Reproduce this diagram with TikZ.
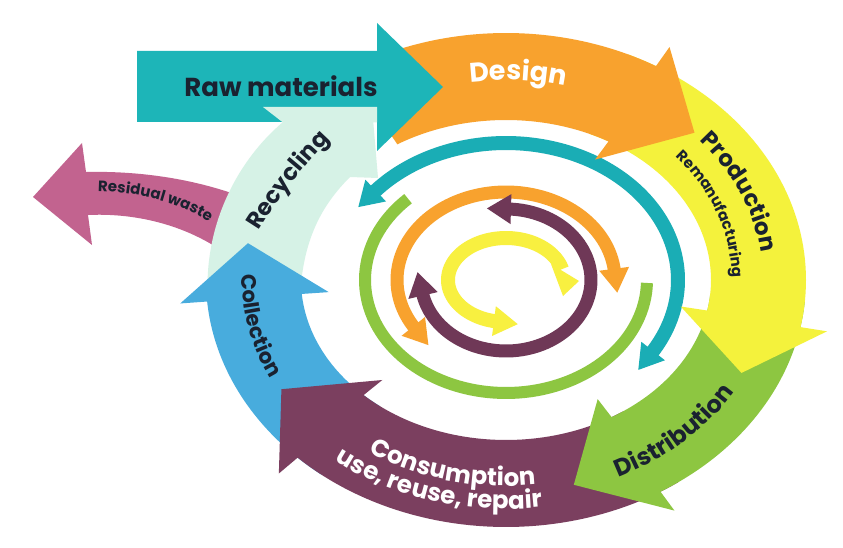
\documentclass[tikz,border=0pt]{standalone}
\usepackage{fontspec}
\setmainfont{Poppins}
\usetikzlibrary{arrows.meta,decorations.text}
\definecolor{cteal}{HTML}{1DB5B8}
\definecolor{ctealring}{HTML}{1AADB5}
\definecolor{corange}{HTML}{F8A22E}
\definecolor{cyellow}{HTML}{F4F23C}
\definecolor{cyelring}{HTML}{F8F040}
\definecolor{cgreen}{HTML}{8DC641}
\definecolor{cplum}{HTML}{7B3F5F}
\definecolor{cplumring}{HTML}{6F3857}
\definecolor{cblue}{HTML}{48ACDD}
\definecolor{cmint}{HTML}{D6F2E6}
\definecolor{cpink}{HTML}{C2638F}
\definecolor{cink}{HTML}{1A2230}
\def\CX{506}
\def\CY{280}
% band arrow along the big ring: #1 tail angle, #2 barb angle, #3 tip angle, #4 colour
\newcommand\bandarrow[4]{%
  \fill[#4] plot[domain=#1:#2,samples=50] ({\CX+300*cos(\x)},{\CY+247*sin(\x)})
    -- ({\CX+327*cos(#2)},{\CY+269*sin(#2)})
    -- ({\CX+262*cos(#3)},{\CY+212*sin(#3)})
    -- ({\CX+178*cos(#2)},{\CY+139*sin(#2)})
    -- plot[domain=#2:#1,samples=50] ({\CX+205*cos(\x)},{\CY+160*sin(\x)}) -- cycle;}
% head of an inner ring: rx, ry, angle, direction (+1/-1), colour
\newcommand\ringhead[5]{%
  \pgfmathsetmacro\rhx{\CX+#1*cos(#3)}%
  \pgfmathsetmacro\rhy{\CY+#2*sin(#3)}%
  \pgfmathsetmacro\rtx{(#4)*(-1)*#1*sin(#3)}%
  \pgfmathsetmacro\rty{(#4)*#2*cos(#3)}%
  \pgfmathsetmacro\rtn{veclen(\rtx,\rty)}%
  \pgfmathsetmacro\rux{\rtx/\rtn}%
  \pgfmathsetmacro\ruy{\rty/\rtn}%
  \fill[#5] ({\rhx-2*\rux+15*\ruy},{\rhy-2*\ruy-15*\rux})
    -- ({\rhx+22*\rux},{\rhy+22*\ruy})
    -- ({\rhx-2*\rux-15*\ruy},{\rhy-2*\ruy+15*\rux}) -- cycle;}
% text along an ellipse arc: colour, font, text, rx, ry, from, to
\newcommand\arctext[7]{%
  \path[decorate,decoration={text along path,text align=center,text color=#1,
    text={|#2|#3}}] plot[domain=#6:#7,samples=80] ({\CX+#4*cos(\x)},{\CY+#5*sin(\x)});}
\tikzset{ring/.style={line width=#1}}
\begin{document}
\begin{tikzpicture}[x=1pt,y=-1pt]
\useasboundingbox (0,0) rectangle (843,548);
\fill[white] (0,0) rectangle (843,548);
% residual waste
\fill[cpink] (240,196) .. controls (185,176) and (130,171) .. (86,172) -- (82,143) -- (33,197)
  -- (92,245) -- (88,215) .. controls (130,213) and (185,222) .. (232,258) -- cycle;
% recycling band
\fill[cmint] (208,300) .. controls (203,225) and (238,160) .. (283,122) -- (263,107) -- (372,107)
  -- (378,178) -- (350,177) .. controls (322,205) and (302,240) .. (300,300) -- cycle;
% ring bands
\bandarrow{128}{175}{190}{cblue}
\bandarrow{55}{134}{149}{cplum}
\bandarrow{5}{59}{75}{cgreen}
% inner rings
\draw[ctealring, ring=14] plot[domain=-140:32,samples=90] ({\CX+172*cos(\x)},{\CY+137*sin(\x)});
\ringhead{172}{137}{-140}{-1}{ctealring}
\ringhead{172}{137}{32}{1}{ctealring}
\draw[cgreen, ring=12] plot[domain=1.5:226,samples=90] ({\CX+141*cos(\x)},{\CY+113*sin(\x)});
\draw[corange, ring=13] plot[domain=147:354,samples=90] ({\CX+109*cos(\x)},{\CY+88*sin(\x)});
\ringhead{109}{88}{147}{-1}{corange}
\ringhead{109}{88}{354}{1}{corange}
\draw[cplumring, ring=13] plot[domain=-88:169,samples=90] ({\CX+85*cos(\x)},{\CY+71*sin(\x)});
\ringhead{85}{71}{-88}{-1}{cplumring}
\ringhead{85}{71}{169}{1}{cplumring}
\draw[cyelring, ring=14] plot[domain=100:345,samples=90] ({\CX+58*cos(\x)},{\CY+42*sin(\x)});
\ringhead{58}{42}{100}{-1}{cyelring}
\fill[cyelring] (551,264) -- (579,281) -- (563,296) -- cycle;
% production and design
\bandarrow{-66}{11}{26}{cyellow}
\bandarrow{-122}{-60}{-44}{corange}
% raw materials arrow
\fill[cteal] (137,51) -- (377,51) -- (377,23) -- (443,87) -- (377,151) -- (377,122) -- (137,122) -- cycle;
\fill[cmint] (263,107) -- (377,107) -- (377,122.5) -- (283,122.5) -- cycle;
% texts
\node[text=cink, font=\bfseries\fontsize{26}{26}\selectfont] (raw) at (281,86) {Raw materials};
\arctext{white}{\bfseries\fontsize{27}{27}\selectfont}{Design}{240}{200}{-122}{-52}
\arctext{cink}{\bfseries\fontsize{23}{23}\selectfont}{Production}{257}{212}{-60}{14}
\arctext{cink}{\bfseries\fontsize{15}{15}\selectfont}{Remanufacturing}{226}{187}{-58}{18}
\arctext{cink}{\bfseries\fontsize{24}{24}\selectfont}{Distribution}{266}{218}{82}{11}
\arctext{white}{\bfseries\fontsize{24.5}{24.5}\selectfont}{Consumption}{250}{206}{146}{62}
\arctext{white}{\bfseries\fontsize{24.5}{24.5}\selectfont}{use, reuse, repair}{278}{229}{148}{64}
\arctext{cink}{\bfseries\fontsize{21}{21}\selectfont}{Collection}{264}{218}{202}{134}
\path[decorate,decoration={text along path,text align=center,text color=cink,
  text={|\bfseries\fontsize{23}{23}\selectfont|Recycling}}]
  (231,280) .. controls (265,210) and (312,151) .. (371,101);
\path[decorate,decoration={text along path,text align=center,text color=cink,
  text={|\bfseries\fontsize{15}{15}\selectfont|Residual waste}}]
  (70,192) .. controls (127,188) and (182,198) .. (232,238);
\end{tikzpicture}
\end{document}
